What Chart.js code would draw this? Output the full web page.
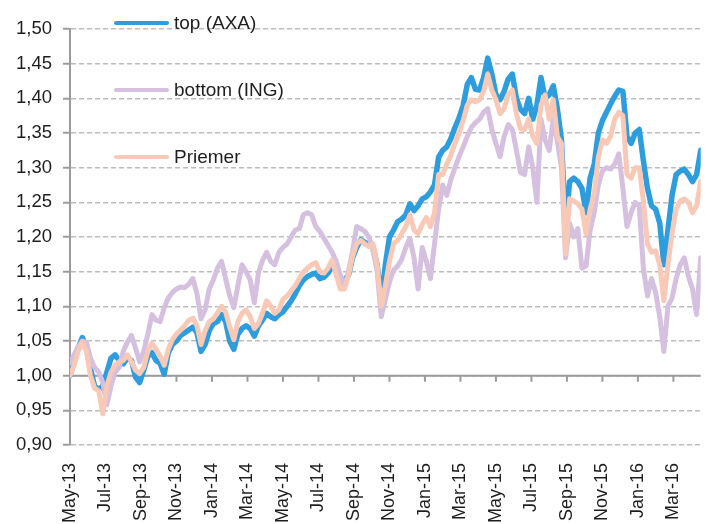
<!DOCTYPE html>
<html>
<head>
<meta charset="utf-8">
<script src="https://cdn.jsdelivr.net/npm/chart.js@4.4.1/dist/chart.umd.min.js"></script>
<style>
  body { margin: 0; background: #fff; }
  #caja { width: 705px; height: 524px; }
</style>
</head>
<body>
<div id="caja"><canvas id="myChart"></canvas></div>
<script>
// etiquetas del eje X (cada 2 meses desde May-13)
const etiquetasX = ["May-13", "Jul-13", "Sep-13", "Nov-13", "Jan-14", "Mar-14", "May-14", "Jul-14", "Sep-14",
  "Nov-14", "Jan-15", "Mar-15", "May-15", "Jul-15", "Sep-15", "Nov-15", "Jan-16", "Mar-16"];
const mesesTicks = [0, 2, 4, 6, 8, 10, 12, 14, 16, 18, 20, 22, 24, 26, 28, 30, 32, 34];

// valores semanales
const axa = [
  1.000, 1.020, 1.040, 1.055, 1.040, 1.010, 0.985, 0.980, 0.985, 1.005,
  1.025, 1.030, 1.022, 1.017, 1.025, 1.022, 0.998, 0.990, 1.008, 1.028,
  1.033, 1.022, 1.018, 1.002, 1.033, 1.045, 1.050, 1.058, 1.062, 1.066,
  1.070, 1.062, 1.035, 1.045, 1.065, 1.075, 1.078, 1.088, 1.078, 1.050,
  1.038, 1.060, 1.068, 1.072, 1.068, 1.057, 1.072, 1.080, 1.090, 1.085,
  1.082, 1.088, 1.092, 1.100, 1.108, 1.118, 1.130, 1.138, 1.143, 1.146,
  1.148, 1.140, 1.142, 1.148, 1.158, 1.150, 1.134, 1.138, 1.145, 1.170,
  1.185, 1.196, 1.192, 1.190, 1.185, 1.160, 1.108, 1.160, 1.200, 1.210,
  1.222, 1.226, 1.232, 1.248, 1.238, 1.245, 1.255, 1.258, 1.265, 1.275,
  1.315, 1.325, 1.330, 1.342, 1.358, 1.372, 1.390, 1.420, 1.430, 1.413,
  1.412, 1.430, 1.458, 1.435, 1.405, 1.398, 1.410, 1.428, 1.435, 1.400,
  1.384, 1.378, 1.400, 1.370, 1.390, 1.430, 1.400, 1.405, 1.418, 1.385,
  1.340, 1.215, 1.280, 1.285, 1.280, 1.270, 1.235, 1.285, 1.305, 1.350,
  1.368, 1.380, 1.392, 1.403, 1.412, 1.410, 1.345, 1.335, 1.350, 1.355,
  1.310, 1.270, 1.245, 1.240, 1.220, 1.160, 1.210, 1.260, 1.290, 1.295,
  1.298, 1.290, 1.280, 1.290, 1.325
];
const ing = [
  1.018, 1.030, 1.042, 1.050, 1.048, 1.025, 1.012, 1.005, 0.990, 0.958,
  0.985, 1.005, 1.012, 1.035, 1.048, 1.058, 1.040, 1.020, 1.035, 1.060,
  1.088, 1.080, 1.078, 1.098, 1.112, 1.120, 1.125, 1.128, 1.127, 1.132,
  1.140, 1.118, 1.082, 1.095, 1.125, 1.138, 1.155, 1.165, 1.140, 1.115,
  1.098, 1.130, 1.160, 1.150, 1.138, 1.105, 1.148, 1.166, 1.178, 1.165,
  1.160, 1.178, 1.185, 1.190, 1.200, 1.210, 1.212, 1.232, 1.235, 1.232,
  1.215, 1.208, 1.198, 1.188, 1.178, 1.165, 1.145, 1.128, 1.150, 1.180,
  1.215, 1.212, 1.208, 1.200, 1.180, 1.150, 1.085, 1.110, 1.135, 1.152,
  1.158, 1.168, 1.185, 1.198, 1.170, 1.125, 1.185, 1.165, 1.140, 1.190,
  1.240, 1.275, 1.260, 1.283, 1.300, 1.316, 1.330, 1.345, 1.358, 1.365,
  1.370, 1.380, 1.385, 1.355, 1.335, 1.316, 1.345, 1.362, 1.355, 1.325,
  1.293, 1.290, 1.330, 1.300, 1.250, 1.370, 1.340, 1.325, 1.370, 1.338,
  1.300, 1.170, 1.220, 1.200, 1.212, 1.155, 1.158, 1.210, 1.235, 1.275,
  1.295, 1.300, 1.298, 1.305, 1.320, 1.270, 1.215, 1.235, 1.250, 1.245,
  1.155, 1.115, 1.140, 1.120, 1.085, 1.035, 1.100, 1.112, 1.140, 1.160,
  1.170, 1.143, 1.125, 1.088, 1.170
];
const priemer = [
  1.000, 1.015, 1.035, 1.048, 1.035, 1.000, 0.982, 0.978, 0.945, 0.985,
  1.005, 1.015, 1.020, 1.022, 1.030, 1.020, 1.008, 1.003, 1.012, 1.035,
  1.047, 1.038, 1.028, 1.015, 1.038, 1.052, 1.060, 1.066, 1.072, 1.080,
  1.083, 1.072, 1.045, 1.065, 1.078, 1.082, 1.090, 1.100, 1.092, 1.070,
  1.052, 1.078, 1.090, 1.095, 1.085, 1.068, 1.075, 1.090, 1.108, 1.100,
  1.090, 1.095, 1.110, 1.115, 1.122, 1.130, 1.140, 1.150, 1.155, 1.160,
  1.163, 1.150, 1.148, 1.155, 1.167, 1.145, 1.125, 1.125, 1.145, 1.172,
  1.190, 1.195, 1.190, 1.186, 1.190, 1.160, 1.100, 1.130, 1.165, 1.190,
  1.195, 1.205, 1.215, 1.232, 1.210, 1.205, 1.218, 1.228, 1.215, 1.235,
  1.290, 1.290, 1.305, 1.318, 1.335, 1.350, 1.368, 1.390, 1.398, 1.395,
  1.398, 1.410, 1.435, 1.412, 1.398, 1.378, 1.385, 1.405, 1.412, 1.378,
  1.356, 1.355, 1.370, 1.345, 1.335, 1.390, 1.405, 1.370, 1.398, 1.345,
  1.335, 1.175, 1.255, 1.252, 1.248, 1.240, 1.205, 1.240, 1.262, 1.315,
  1.340, 1.335, 1.345, 1.370, 1.380, 1.375, 1.290, 1.285, 1.300, 1.300,
  1.252, 1.190, 1.178, 1.180, 1.160, 1.108, 1.160, 1.205, 1.240, 1.252,
  1.255, 1.250, 1.235, 1.245, 1.280
];

// semana -> meses desde May-13
const aPuntos = (serie) => serie.map((v, i) => ({ x: (i * 12) / 52, y: v }));
const ultimoMes = ((axa.length - 1) * 12) / 52;

Chart.defaults.font.family = "'Liberation Sans', Arial, sans-serif";
Chart.defaults.color = "#1e1e1e";

// linea del eje X en 1,00 con sus marcas
const ejeUno = {
  id: "ejeUno",
  beforeDatasetsDraw(chart) {
    const { ctx, chartArea, scales } = chart;
    const y1 = scales.y.getPixelForValue(1);
    ctx.save();
    ctx.strokeStyle = "#9b9b9b";
    ctx.lineWidth = 2;
    ctx.beginPath();
    ctx.moveTo(chartArea.left, y1);
    ctx.lineTo(chartArea.right, y1);
    scales.x.ticks.forEach((t) => {
      const x = scales.x.getPixelForValue(t.value);
      ctx.moveTo(x, y1);
      ctx.lineTo(x, y1 + 6);
    });
    ctx.stroke();
    ctx.restore();
  },
};

// leyenda dentro del grafico
const leyenda = {
  id: "leyenda",
  afterDraw(chart) {
    const ctx = chart.ctx;
    ctx.save();
    ctx.font = "19px 'Liberation Sans', Arial, sans-serif";
    ctx.textBaseline = "middle";
    ctx.fillStyle = "#1e1e1e";
    chart.data.datasets.forEach((ds, i) => {
      const y = 23 + i * 67;
      ctx.strokeStyle = ds.borderColor;
      ctx.lineWidth = 4;
      ctx.lineCap = "round";
      ctx.beginPath();
      ctx.moveTo(116, y);
      ctx.lineTo(167, y);
      ctx.stroke();
      ctx.fillText(ds.label, 174, y + 1);
    });
    ctx.restore();
  },
};

let comunes = {
  pointRadius: 0,
  tension: 0,
  fill: false,
  borderJoinStyle: "round",
  borderCapStyle: "round",
};

new Chart(document.getElementById("myChart"), {
  type: "line",
  data: {
    datasets: [
      { ...comunes, label: "top (AXA)", data: aPuntos(axa), borderColor: "#2e9ddd", borderWidth: 5.5, order: 2 },
      { ...comunes, label: "bottom (ING)", data: aPuntos(ing), borderColor: "#d5c0df", borderWidth: 5, order: 1 },
      { ...comunes, label: "Priemer", data: aPuntos(priemer), borderColor: "#f8c9b6", borderWidth: 5, order: 0 },
    ],
  },
  options: {
    responsive: true,
    maintainAspectRatio: false,
    animation: false,
    layout: { padding: { top: 29, right: 0, left: 0, bottom: 0 } },
    plugins: { legend: { display: false }, tooltip: { enabled: false } },
    scales: {
      x: {
        type: "linear",
        min: 0,
        max: ultimoMes,
        grid: { display: false },
        border: { display: false },
        afterBuildTicks: (scale) => {
          scale.ticks = mesesTicks.map((m) => ({ value: m }));
        },
        afterFit: (scale) => { scale.height = 79; },
        ticks: {
          minRotation: 90,
          maxRotation: 90,
          autoSkip: false,
          padding: 10,
          font: { size: 18 },
          callback: (v, i) => etiquetasX[i],
        },
      },
      y: {
        min: 0.9,
        max: 1.5,
        afterFit: (scale) => { scale.width = 70; },
        grid: {
          color: "#bdbdbd",
          lineWidth: 1.5,
          tickLength: 7,
          tickColor: "#9b9b9b",
          tickWidth: 2,
          tickBorderDash: [],
        },
        border: { display: true, color: "#9b9b9b", width: 2, dash: [5, 3] },
        ticks: {
          stepSize: 0.05,
          padding: 11,
          font: { size: 18.5 },
          callback: (v) => v.toFixed(2).replace(".", ","),
        },
      },
    },
  },
  plugins: [ejeUno, leyenda],
});
</script>
</body>
</html>
